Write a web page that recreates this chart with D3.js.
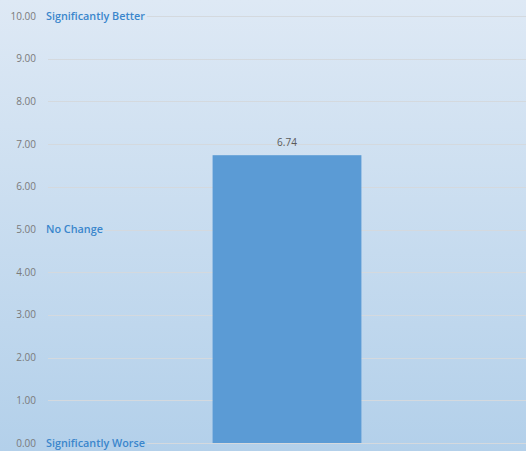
<!DOCTYPE html>
<html>
<head>
<meta charset="utf-8">
<script src="https://cdn.jsdelivr.net/npm/d3@7"></script>
<style>
  html, body { margin: 0; padding: 0; }
  svg { display: block; }
</style>
</head>
<body>
<svg id="chart" width="526" height="451"></svg>
<script>
// data
const categories = ['Score'];
const values = [6.74];
const tickValues = [0, 1, 2, 3, 4, 5, 6, 7, 8, 9, 10];
const scaleNotes = [
    {value: 10, text: 'Significantly Better'},
    {value: 5, text: 'No Change'},
    {value: 0, text: 'Significantly Worse'}
];

const width = 526;
const height = 451;
const margin = {top: 16, right: 0, bottom: 8, left: 48};

const svg = d3.select('#chart');

// background gradient
const defs = svg.append('defs');
const grad = defs.append('linearGradient')
    .attr('id', 'bg')
    .attr('x1', 0).attr('y1', 0)
    .attr('x2', 0).attr('y2', 1);
grad.append('stop').attr('offset', '0%').attr('stop-color', '#dee9f5');
grad.append('stop').attr('offset', '100%').attr('stop-color', '#b3d0ea');

svg.append('rect')
    .attr('width', width)
    .attr('height', height)
    .attr('fill', 'url(#bg)');

const y = d3.scaleLinear()
    .domain([0, 10])
    .range([height - margin.bottom, margin.top]);

const x = d3.scaleBand()
    .domain(categories)
    .range([margin.left, width - margin.right])
    .paddingInner(0.6887)
    .paddingOuter(0.3443);

const gridG = svg.append('g');

// tick labels
svg.append('g')
    .selectAll('text')
    .data(tickValues)
    .join('text')
    .attr('x', 36)
    .attr('y', d => y(d))
    .attr('dy', '0.35em')
    .attr('text-anchor', 'end')
    .style('font-family', 'Open Sans, sans-serif')
    .style('font-size', '10px')
    .style('fill', '#7a7a7a')
    .text(d => d.toFixed(2));

// scale notes
const notes = svg.append('g')
    .selectAll('text')
    .data(scaleNotes)
    .join('text')
    .attr('x', 46)
    .attr('y', d => y(d.value))
    .attr('dy', '0.35em')
    .style('font-family', 'Open Sans, sans-serif')
    .style('font-size', '10.8px')
    .style('font-weight', '600')
    .style('fill', '#3a86cc')
    .text(d => d.text);

const noteEnd = {};
notes.each(function (d) {
    noteEnd[d.value] = 46 + this.getComputedTextLength() + 2;
});

// gridlines
gridG.selectAll('line')
    .data(tickValues)
    .join('line')
    .attr('x1', d => noteEnd[d] || margin.left)
    .attr('x2', width - margin.right)
    .attr('y1', d => Math.round(y(d)) + 0.5)
    .attr('y2', d => Math.round(y(d)) + 0.5)
    .attr('stroke', '#d4d9de')
    .attr('stroke-width', 1);

// bars
svg.append('g')
    .selectAll('rect')
    .data(values)
    .join('rect')
    .attr('x', (d, i) => x(categories[i]))
    .attr('y', d => y(d))
    .attr('width', x.bandwidth())
    .attr('height', d => y(0) - y(d))
    .attr('fill', '#5b9bd5');

// bar labels
svg.append('g')
    .selectAll('text')
    .data(values)
    .join('text')
    .attr('x', (d, i) => x(categories[i]) + x.bandwidth() / 2)
    .attr('y', d => y(d) - 9)
    .attr('text-anchor', 'middle')
    .style('font-family', 'Open Sans, sans-serif')
    .style('font-size', '10px')
    .style('fill', '#5a5a5a')
    .text(d => d.toFixed(2));
</script>
</body>
</html>
